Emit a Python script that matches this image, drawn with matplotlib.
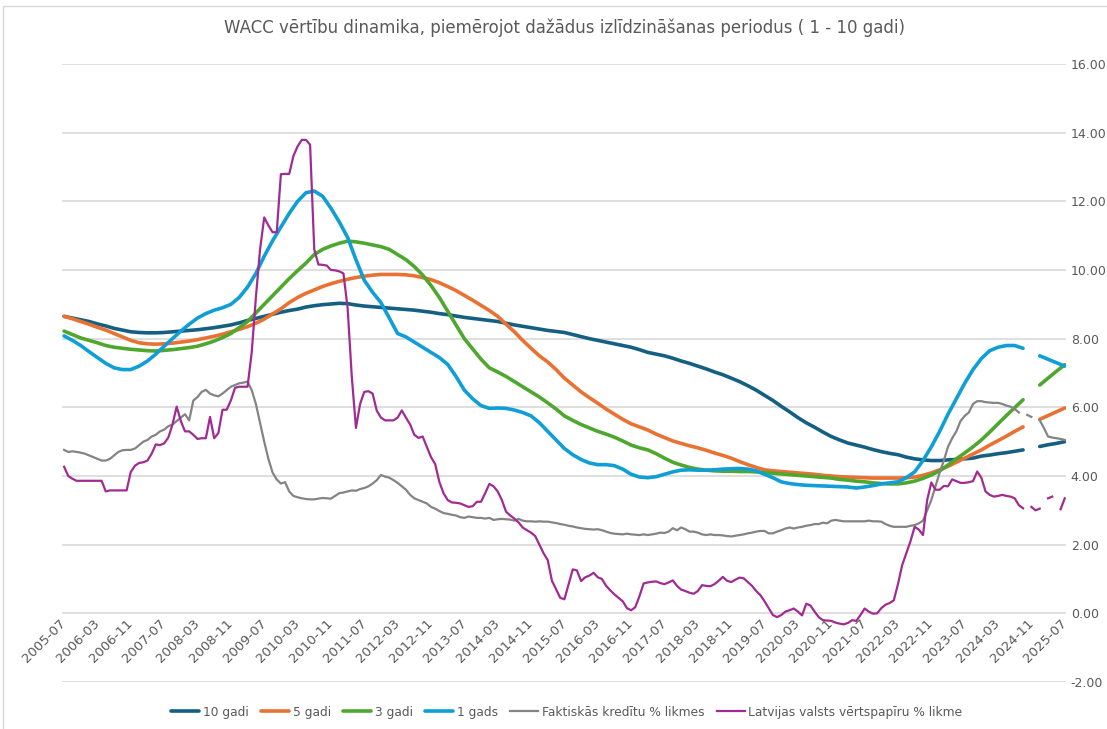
import numpy as np
import matplotlib.pyplot as plt
from matplotlib.patches import Rectangle

nan = np.nan

# Mēneši 2005-07 ... 2025-07 (indeksi 0..240)
tick_labels = ["2005-07", "2006-03", "2006-11", "2007-07", "2008-03", "2008-11", "2009-07",
               "2010-03", "2010-11", "2011-07", "2012-03", "2012-11", "2013-07", "2014-03",
               "2014-11", "2015-07", "2016-03", "2016-11", "2017-07", "2018-03", "2018-11",
               "2019-07", "2020-03", "2020-11", "2021-07", "2022-03", "2022-11", "2023-07",
               "2024-03", "2024-11", "2025-07"]

# WACC sērijas, katrs otrais mēnesis (m = 0, 2, ..., 240)
wacc_10 = [8.65, 8.60, 8.55, 8.50, 8.43, 8.37, 8.30, 8.25, 8.20, 8.18,
           8.17, 8.17, 8.18, 8.20, 8.22, 8.24, 8.26, 8.29, 8.32, 8.36,
           8.40, 8.46, 8.53, 8.59, 8.65, 8.71, 8.77, 8.82, 8.86, 8.92,
           8.96, 8.99, 9.01, 9.03, 9.02, 8.98, 8.95, 8.93, 8.91, 8.89,
           8.87, 8.85, 8.83, 8.80, 8.77, 8.73, 8.70, 8.66, 8.62, 8.59,
           8.56, 8.53, 8.50, 8.45, 8.40, 8.36, 8.32, 8.28, 8.24, 8.21,
           8.18, 8.12, 8.06, 8.00, 7.95, 7.90, 7.85, 7.80, 7.75, 7.68,
           7.60, 7.55, 7.50, 7.43, 7.35, 7.28, 7.20, 7.12, 7.03, 6.95,
           6.85, 6.75, 6.63, 6.50, 6.35, 6.20, 6.03, 5.87, 5.70, 5.55,
           5.42, 5.28, 5.15, 5.05, 4.96, 4.90, 4.84, 4.77, 4.71, 4.66,
           4.62, 4.55, 4.50, 4.47, 4.45, 4.45, 4.47, 4.48, 4.50, 4.52,
           4.58, 4.61, 4.65, 4.68, 4.72, 4.76, nan, 4.86, 4.91, 4.95,
           5.00]

wacc_5 = [8.65, 8.58, 8.50, 8.42, 8.33, 8.25, 8.15, 8.05, 7.95, 7.88,
          7.85, 7.84, 7.85, 7.87, 7.90, 7.93, 7.97, 8.02, 8.07, 8.13,
          8.20, 8.27, 8.35, 8.45, 8.57, 8.72, 8.87, 9.05, 9.20, 9.32,
          9.42, 9.52, 9.60, 9.67, 9.73, 9.78, 9.82, 9.85, 9.87, 9.87,
          9.87, 9.86, 9.83, 9.78, 9.72, 9.63, 9.52, 9.40, 9.26, 9.12,
          8.97, 8.82, 8.65, 8.42, 8.20, 7.95, 7.72, 7.50, 7.32, 7.10,
          6.85, 6.65, 6.45, 6.28, 6.12, 5.95, 5.80, 5.65, 5.52, 5.43,
          5.34, 5.22, 5.12, 5.02, 4.95, 4.88, 4.82, 4.75, 4.67, 4.60,
          4.52, 4.42, 4.33, 4.25, 4.18, 4.15, 4.13, 4.11, 4.09, 4.07,
          4.05, 4.02, 4.00, 3.98, 3.97, 3.96, 3.95, 3.94, 3.94, 3.94,
          3.94, 3.95, 3.97, 4.02, 4.09, 4.18, 4.28, 4.40, 4.52, 4.64,
          4.76, 4.90, 5.03, 5.16, 5.30, 5.43, nan, 5.65, 5.76, 5.87,
          5.98]

wacc_3 = [8.22, 8.12, 8.02, 7.95, 7.88, 7.80, 7.75, 7.72, 7.69, 7.67,
          7.65, 7.64, 7.66, 7.68, 7.71, 7.74, 7.78, 7.85, 7.93, 8.03,
          8.15, 8.32, 8.50, 8.75, 9.00, 9.25, 9.50, 9.75, 9.98, 10.20,
          10.45, 10.60, 10.70, 10.78, 10.84, 10.82, 10.78, 10.73, 10.68, 10.60,
          10.45, 10.30, 10.10, 9.85, 9.55, 9.20, 8.80, 8.40, 8.00, 7.70,
          7.40, 7.15, 7.03, 6.90, 6.75, 6.60, 6.45, 6.30, 6.13, 5.95,
          5.75, 5.62, 5.50, 5.40, 5.30, 5.22, 5.13, 5.02, 4.90, 4.82,
          4.76, 4.65, 4.52, 4.40, 4.32, 4.25, 4.20, 4.17, 4.15, 4.14,
          4.14, 4.13, 4.13, 4.12, 4.10, 4.08, 4.06, 4.04, 4.02, 4.00,
          3.98, 3.96, 3.94, 3.90, 3.88, 3.85, 3.83, 3.80, 3.78, 3.77,
          3.77, 3.80, 3.85, 3.93, 4.03, 4.15, 4.32, 4.50, 4.67, 4.85,
          5.05, 5.28, 5.52, 5.76, 5.99, 6.22, nan, 6.65, 6.85, 7.05,
          7.24]

wacc_1 = [8.08, 7.95, 7.80, 7.62, 7.45, 7.28, 7.15, 7.10, 7.10, 7.20,
          7.35, 7.55, 7.78, 8.00, 8.22, 8.42, 8.60, 8.73, 8.83, 8.90,
          9.00, 9.20, 9.50, 9.90, 10.40, 10.85, 11.25, 11.65, 12.00, 12.25,
          12.30, 12.15, 11.80, 11.40, 10.95, 10.30, 9.70, 9.35, 9.05, 8.60,
          8.15, 8.05, 7.90, 7.75, 7.60, 7.45, 7.25, 6.90, 6.50, 6.25,
          6.05, 5.97, 5.98, 5.97, 5.92, 5.85, 5.75, 5.55, 5.30, 5.05,
          4.80, 4.62, 4.48, 4.38, 4.33, 4.33, 4.30, 4.20, 4.05, 3.97,
          3.95, 3.98, 4.05, 4.12, 4.17, 4.18, 4.17, 4.17, 4.18, 4.20,
          4.21, 4.22, 4.20, 4.15, 4.05, 3.95, 3.83, 3.78, 3.75, 3.73,
          3.72, 3.71, 3.70, 3.69, 3.68, 3.65, 3.68, 3.72, 3.77, 3.80,
          3.83, 3.95, 4.12, 4.45, 4.85, 5.30, 5.80, 6.25, 6.70, 7.10,
          7.42, 7.65, 7.75, 7.80, 7.80, 7.72, nan, 7.50, 7.40, 7.30,
          7.20]

# Faktiskās kredītu % likmes, katrs mēnesis
kredits = [4.76, 4.70, 4.72, 4.70, 4.68, 4.65, 4.60, 4.55, 4.50, 4.45,
           4.45, 4.50, 4.60, 4.70, 4.75, 4.76, 4.76, 4.80, 4.90, 5.00,
           5.05, 5.15, 5.20, 5.30, 5.35, 5.45, 5.50, 5.60, 5.70, 5.80,
           5.62, 6.20, 6.30, 6.45, 6.51, 6.40, 6.35, 6.32, 6.40, 6.50,
           6.60, 6.65, 6.70, 6.72, 6.75, 6.50, 6.10, 5.55, 5.00, 4.50,
           4.10, 3.90, 3.78, 3.82, 3.55, 3.42, 3.38, 3.35, 3.33, 3.32,
           3.32, 3.34, 3.36, 3.35, 3.34, 3.42, 3.50, 3.52, 3.55, 3.58,
           3.57, 3.62, 3.65, 3.70, 3.78, 3.88, 4.03, 3.98, 3.95, 3.88,
           3.80, 3.70, 3.60, 3.45, 3.35, 3.30, 3.25, 3.20, 3.10, 3.05,
           2.98, 2.92, 2.90, 2.87, 2.85, 2.80, 2.78, 2.82, 2.80, 2.78,
           2.78, 2.76, 2.78, 2.72, 2.74, 2.75, 2.74, 2.73, 2.70, 2.75,
           2.70, 2.68, 2.68, 2.67, 2.68, 2.67, 2.67, 2.65, 2.63, 2.60,
           2.58, 2.55, 2.53, 2.50, 2.48, 2.46, 2.45, 2.44, 2.45, 2.42,
           2.38, 2.34, 2.32, 2.31, 2.30, 2.32, 2.30, 2.29, 2.28, 2.30,
           2.28, 2.30, 2.32, 2.35, 2.34, 2.38, 2.48, 2.42, 2.50, 2.45,
           2.38, 2.38, 2.35, 2.30, 2.28, 2.30, 2.28, 2.28, 2.27, 2.25,
           2.24, 2.26, 2.28, 2.30, 2.33, 2.35, 2.38, 2.40, 2.40, 2.33,
           2.33, 2.38, 2.42, 2.47, 2.50, 2.47, 2.50, 2.52, 2.55, 2.57,
           2.60, 2.60, 2.64, 2.62, 2.70, 2.72, 2.70, 2.68, 2.68, 2.68,
           2.68, 2.68, 2.68, 2.70, 2.68, 2.68, 2.67, 2.60, 2.55, 2.52,
           2.52, 2.52, 2.52, 2.55, 2.57, 2.62, 2.70, 3.00, 3.30, 3.70,
           4.10, 4.45, 4.85, 5.10, 5.30, 5.60, 5.75, 5.85, 6.10, 6.18,
           6.18, 6.15, 6.14, 6.13, 6.13, 6.10, 6.05, 6.02, 5.95, 5.85,
           nan, 5.78, 5.72, nan, 5.62, 5.40, 5.15, 5.12, 5.10, 5.08,
           5.05]

# Latvijas valsts vērtspapīru % likme, katrs mēnesis
vertspapiri = [4.27, 4.00, 3.92, 3.86, 3.86, 3.86, 3.86, 3.86, 3.86, 3.86,
               3.55, 3.58, 3.58, 3.58, 3.58, 3.58, 4.12, 4.30, 4.38, 4.40,
               4.45, 4.65, 4.92, 4.90, 4.95, 5.12, 5.50, 6.02, 5.60, 5.30,
               5.30, 5.20, 5.08, 5.10, 5.10, 5.72, 5.10, 5.25, 5.93, 5.93,
               6.20, 6.57, 6.60, 6.60, 6.60, 7.60, 9.20, 10.60, 11.53, 11.30,
               11.10, 11.10, 12.79, 12.80, 12.80, 13.32, 13.60, 13.79, 13.79, 13.65,
               10.60, 10.16, 10.15, 10.13, 10.00, 9.99, 9.96, 9.90, 8.90, 6.90,
               5.40, 6.10, 6.45, 6.47, 6.40, 5.90, 5.70, 5.62, 5.62, 5.62,
               5.70, 5.91, 5.70, 5.50, 5.20, 5.11, 5.15, 4.85, 4.55, 4.35,
               3.83, 3.50, 3.30, 3.23, 3.22, 3.20, 3.15, 3.10, 3.12, 3.25,
               3.25, 3.50, 3.77, 3.70, 3.55, 3.30, 2.96, 2.85, 2.76, 2.65,
               2.50, 2.42, 2.35, 2.25, 2.00, 1.75, 1.55, 0.95, 0.70, 0.45,
               0.41, 0.85, 1.28, 1.25, 0.94, 1.05, 1.10, 1.18, 1.05, 1.00,
               0.80, 0.67, 0.55, 0.45, 0.35, 0.15, 0.09, 0.18, 0.50, 0.87,
               0.90, 0.92, 0.93, 0.88, 0.85, 0.90, 0.96, 0.80, 0.69, 0.65,
               0.60, 0.57, 0.65, 0.82, 0.80, 0.79, 0.85, 0.95, 1.06, 0.95,
               0.91, 0.98, 1.04, 1.02, 0.91, 0.80, 0.65, 0.53, 0.35, 0.15,
               -0.05, -0.11, -0.05, 0.05, 0.09, 0.14, 0.05, -0.06, 0.28, 0.23,
               0.05, -0.11, -0.20, -0.21, -0.22, -0.27, -0.30, -0.32, -0.28, -0.20,
               -0.22, -0.05, 0.14, 0.05, -0.01, 0.00, 0.15, 0.25, 0.30, 0.38,
               0.85, 1.40, 1.75, 2.10, 2.52, 2.44, 2.28, 3.30, 3.81, 3.60,
               3.60, 3.71, 3.70, 3.90, 3.85, 3.80, 3.80, 3.82, 3.85, 4.13,
               3.95, 3.55, 3.45, 3.40, 3.42, 3.45, 3.42, 3.40, 3.35, 3.15,
               3.06, nan, 3.10, 3.00, 3.05, nan, 3.35, 3.40, nan, 3.03,
               3.35]

men_visi = np.arange(len(kredits))
men_2 = np.arange(0, len(kredits), 2)

teksts = "#595959"

fig = plt.figure(figsize=(11.07, 7.29), dpi=100)
ax = fig.add_axes([62 / 1107, 47 / 729, 1004 / 1107, 618 / 729])

ax.plot(men_2, wacc_10, color="#156082", lw=2.6, label="10 gadi", solid_capstyle="round")
ax.plot(men_2, wacc_5, color="#E97132", lw=2.6, label="5 gadi", solid_capstyle="round")
ax.plot(men_2, wacc_3, color="#4EA72E", lw=2.6, label="3 gadi", solid_capstyle="round")
ax.plot(men_2, wacc_1, color="#0F9ED5", lw=2.6, label="1 gads", solid_capstyle="round")
ax.plot(men_visi, kredits, color="#848484", lw=1.6, label="Faktiskās kredītu % likmes")
ax.plot(men_visi, vertspapiri, color="#A02B93", lw=1.6, label="Latvijas valsts vērtspapīru % likme")

ax.set_xlim(-0.5, 240.3)
ax.set_ylim(-2, 16)
ax.set_yticks(np.arange(-2, 17, 2))
ax.yaxis.set_major_formatter(plt.FuncFormatter(lambda v, p: f"{v:.2f}"))
ax.yaxis.tick_right()
ax.tick_params(axis="y", length=0, pad=3.5, labelsize=9, labelcolor=teksts)
ax.grid(axis="y", color="#D9D9D9", lw=1.2)
ax.set_axisbelow(True)
for s in ax.spines.values():
    s.set_visible(False)

# kategoriju ass pie 0 līnijas
ax.spines["bottom"].set_position(("data", 0))
ax.set_xticks(np.arange(0, 241, 8))
ax.set_xticklabels(tick_labels, rotation=45, ha="right", va="center", rotation_mode="anchor")
ax.tick_params(axis="x", length=0, pad=6, labelsize=9.5, labelcolor=teksts)

ax.set_title("WACC vērtību dinamika, piemērojot dažādus izlīdzināšanas periodus ( 1 - 10 gadi)",
             fontsize=12, color=teksts, pad=22)

leg = fig.legend(loc="center", bbox_to_anchor=(0.512, 0.023), ncol=6, frameon=False,
                 fontsize=8.8, handlelength=2.3, columnspacing=1.0, handletextpad=0.3)
for t in leg.get_texts():
    t.set_color(teksts)

fig.patches.append(Rectangle((3 / 1107, -0.1), 1.2, 1.1 - 6 / 729, transform=fig.transFigure,
                             fill=False, edgecolor="#D9D9D9", lw=1.0))

fig.savefig("out.png", dpi=100)
